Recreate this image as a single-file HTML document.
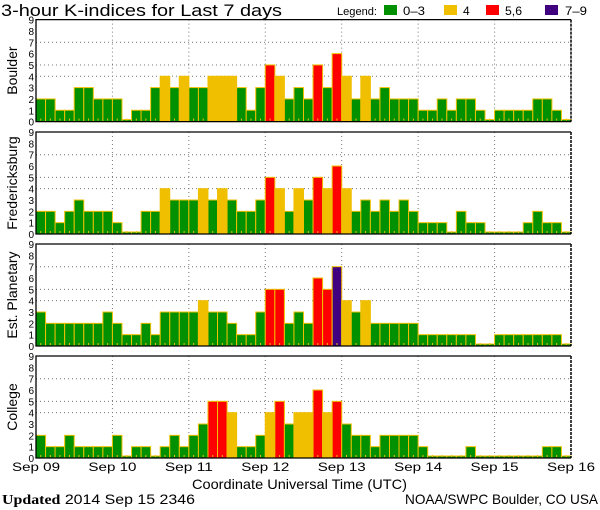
<!DOCTYPE html>
<html><head><meta charset="utf-8"><style>
body{margin:0;background:#fff;}
svg{display:block;font-family:"Liberation Sans",sans-serif;}
</style></head><body>
<svg id="chart" width="600" height="510" viewBox="0 0 600 510">
<text x="1" y="16" font-size="17" textLength="281" lengthAdjust="spacingAndGlyphs">3-hour K-indices for Last 7 days</text>
<g>
<text x="337" y="15" font-size="11" textLength="40" lengthAdjust="spacingAndGlyphs">Legend:</text>
<rect x="384" y="5" width="13" height="10" fill="#009000"/>
<text x="403" y="15" font-size="12" textLength="22" lengthAdjust="spacingAndGlyphs">0–3</text>
<rect x="444" y="5" width="13" height="10" fill="#f0c000"/>
<text x="463" y="15" font-size="12">4</text>
<rect x="486" y="5" width="13" height="10" fill="#ff0000"/>
<text x="505" y="15" font-size="12" textLength="17" lengthAdjust="spacingAndGlyphs">5,6</text>
<rect x="545" y="5" width="13" height="10" fill="#400080"/>
<text x="565" y="15" font-size="12" textLength="22" lengthAdjust="spacingAndGlyphs">7–9</text>
</g>
<text x="192" y="489" font-size="14" textLength="215" lengthAdjust="spacingAndGlyphs">Coordinate Universal Time (UTC)</text>
<text x="2" y="504" font-size="14" textLength="193" lengthAdjust="spacingAndGlyphs"><tspan font-family="Liberation Serif" font-weight="bold">Updated</tspan> 2014 Sep 15 2346</text>
<text x="405" y="504" font-size="14" textLength="193" lengthAdjust="spacingAndGlyphs">NOAA/SWPC Boulder, CO USA</text>
</svg>
<script>
const stations = ["Boulder","Fredericksburg","Est. Planetary","College"];
const boulder = [2,2,1,1,3,3,2,2,2,0,1,1,3,4,3,4,3,3,4,4,4,3,1,3,5,4,2,3,2,5,3,6,4,2,4,2,3,2,2,2,1,1,2,1,2,2,1,0,1,1,1,1,2,2,1,0];
const fredericksburg = [2,2,1,2,3,2,2,2,1,0,0,2,2,4,3,3,3,4,3,4,3,2,2,3,5,4,2,4,3,5,4,6,4,2,3,2,3,2,3,2,1,1,1,0,2,1,1,0,0,0,0,1,2,1,1,0];
const planetary = [3,2,2,2,2,2,2,3,2,1,1,2,1,3,3,3,3,4,3,3,2,1,1,3,5,5,2,3,2,6,5,7,4,3,4,2,2,2,2,2,1,1,1,1,1,1,0,0,1,1,1,1,1,1,1,0];
const college = [2,1,1,2,1,1,1,1,2,0,1,1,0,1,2,1,2,3,5,5,4,1,1,2,4,5,3,4,4,6,4,5,3,2,2,1,2,2,2,2,1,0,0,0,0,1,0,0,0,0,0,0,0,1,1,0];
const series = [boulder,fredericksburg,planetary,college];
const dayLabels = ["Sep 09","Sep 10","Sep 11","Sep 12","Sep 13","Sep 14","Sep 15","Sep 16"];
const yTicks = [0,1,2,3,4,5,6,7,8,9];
const gridLevels = [4,5,7];

const svg = document.getElementById('chart');
const NS = "http://www.w3.org/2000/svg";
const X0 = 36, X1 = 571, UNIT = 11.33;
const zeros = [121.6, 234, 346, 458];
const nBars = 56;
const bw = (X1 - X0) / nBars;
const xScale = i => X0 + i * bw;
const dayX = d => X0 + d * (X1 - X0) / 7;
function color(v){ return v >= 7 ? "#400080" : v >= 5 ? "#ff0000" : v === 4 ? "#f0c000" : "#009000"; }
function mk(tag, attrs){ const e = document.createElementNS(NS, tag); for (const k in attrs) e.setAttribute(k, attrs[k]); svg.appendChild(e); return e; }

series.forEach((vals, p) => {
  const z = zeros[p];
  const yScale = v => z - v * UNIT;
  const top = yScale(9);
  for (let d = 1; d < 7; d++) {
    const g = mk('line', {x1: dayX(d), x2: dayX(d), y1: top, y2: z, stroke: '#777', 'stroke-dasharray': '1,3'});
    
    
  }
  gridLevels.forEach(l => {
    const g = mk('line', {x1: X0, x2: X1, y1: yScale(l), y2: yScale(l), stroke: '#777', 'stroke-dasharray': '1,3'});
    
    
  });
  vals.forEach((v, i) => {
    const h = v === 0 ? 2 : v * UNIT;
    const r = mk('rect', {x: xScale(i), y: z - h, width: bw, height: h, fill: color(v), stroke: '#f0c000', 'stroke-width': 1});
    
    
    const t = mk('rect', {x: xScale(i) + bw / 2 - 0.5, y: z - 3, width: 1, height: 2, fill: '#f0c000'});
    
    
  });
  const fr = mk('path', {d: `M${X1},${top} L${X0},${top} L${X0},${z} L${X1},${z}`, fill: 'none', stroke: '#000', 'stroke-width': 1.3});
  
  
  const rb = mk('line', {x1: X1, x2: X1, y1: top, y2: z, stroke: '#000', 'stroke-width': 1.5, 'stroke-dasharray': '3,1'});
  
  
  yTicks.forEach(t => {
    const tx = mk('text', {x: 34, y: yScale(t) + 4, 'font-size': 10, 'text-anchor': 'end'});
    tx.textContent = t;
    
    
  });
  const yl = mk('text', {x: 0, y: 0, 'font-size': 14, 'text-anchor': 'middle', transform: `translate(17,${(top + z) / 2}) rotate(-90)`});
  yl.textContent = stations[p];
  
  
});
dayLabels.forEach((lab, d) => {
  const t = mk('text', {x: dayX(d) - 24, y: 471, 'font-size': 12, textLength: 48, lengthAdjust: 'spacingAndGlyphs'});
  t.textContent = lab;
  
  
});
</script>
</body></html>
